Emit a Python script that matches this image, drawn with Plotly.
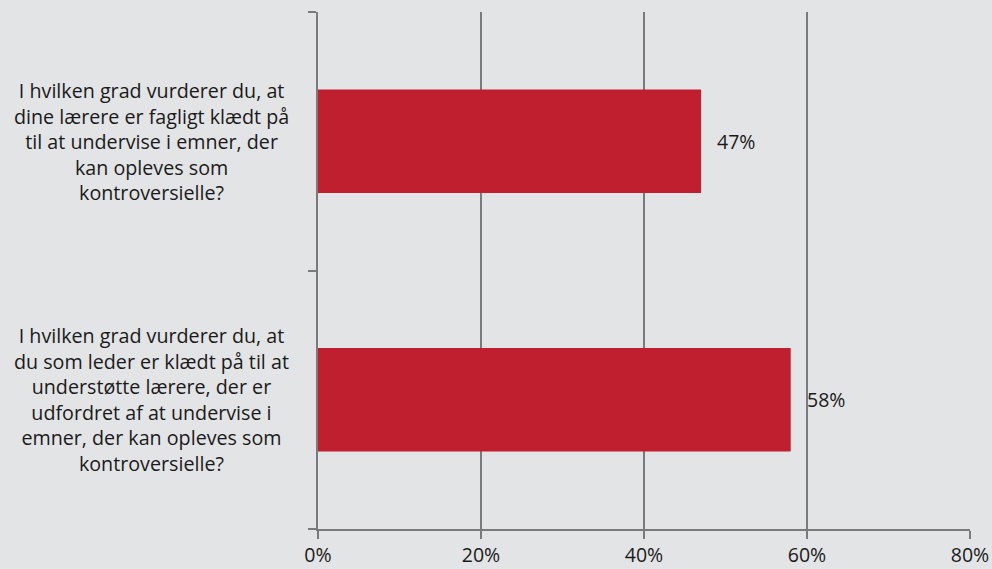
import plotly.graph_objects as go

categories = [
    "I hvilken grad vurderer du, at<br>dine lærere er fagligt klædt på<br>til at undervise i emner, der<br>kan opleves som<br>kontroversielle?",
    "I hvilken grad vurderer du, at<br>du som leder er klædt på til at<br>understøtte lærere, der er<br>udfordret af at undervise i<br>emner, der kan opleves som<br>kontroversielle?",
]
values = [47, 58]
tick_vals = [0, 20, 40, 60, 80]
tick_text = ["0%", "20%", "40%", "60%", "80%"]

BG = "#e3e4e5"
GRID = "#7a7a7a"
RED = "#c01f30"
FONT = "Open Sans, Noto Sans, sans-serif"
TXT = "#1a1a1a"

fig = go.Figure(
    go.Bar(
        x=values,
        y=list(range(len(categories))),
        orientation="h",
        width=0.4,
        marker=dict(color=RED, line=dict(width=0)),
        hoverinfo="skip",
    )
)

# value labels to the right of each bar
for i, v in enumerate(values):
    fig.add_annotation(
        x=v, y=i, xref="x", yref="y",
        text=f"{v}%", showarrow=False,
        xanchor="left", xshift=14,
        font=dict(family=FONT, size=19.5, color=TXT),
    )

# category labels, centred in the left margin
for i, c in enumerate(categories):
    fig.add_annotation(
        x=-0.255, y=i, xref="paper", yref="y",
        text=c, showarrow=False,
        xanchor="center", yanchor="middle", align="center",
        font=dict(family=FONT, size=19.7, color=TXT),
    )

fig.update_layout(
    width=992, height=569,
    margin=dict(l=318, r=22, t=12, b=40),
    paper_bgcolor=BG, plot_bgcolor=BG,
    showlegend=False,
    xaxis=dict(
        range=[0, 80],
        tickvals=tick_vals, ticktext=tick_text,
        showgrid=True, gridcolor=GRID, gridwidth=1.5,
        zeroline=False,
        showline=True, linecolor=GRID, linewidth=1.5,
        ticks="outside", ticklen=8, tickcolor=GRID, tickwidth=1.5,
        tickfont=dict(family=FONT, size=19.5, color=TXT),
        automargin=False,
        fixedrange=True,
    ),
    yaxis=dict(
        range=[1.5, -0.5],
        tickvals=[-0.5, 0.5, 1.5],
        showticklabels=False,
        showgrid=False, zeroline=False,
        showline=True, linecolor=GRID, linewidth=1.5,
        ticks="outside", ticklen=8, tickcolor=GRID, tickwidth=1.5,
        automargin=False,
        fixedrange=True,
    ),
)

fig.write_html("out.html")
